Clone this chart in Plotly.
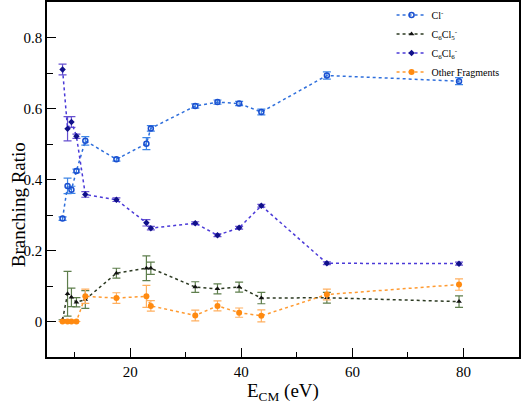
import plotly.graph_objects as go

# Energies (eV)
x_e = [7.8, 8.7, 9.4, 10.3, 11.9, 17.5, 22.9, 23.7, 31.7, 35.7, 39.6, 43.6, 55.4, 79.2]

cl = [0.290, 0.382, 0.371, 0.424, 0.509, 0.457, 0.501, 0.544, 0.607, 0.618, 0.614, 0.590, 0.693, 0.677]
cl_err = [0.005, 0.022, 0.010, 0.005, 0.012, 0.005, 0.017, 0.008, 0.006, 0.006, 0.006, 0.008, 0.010, 0.010]

c6cl5 = [0.005, 0.078, 0.068, 0.054, 0.062, 0.136, 0.150, 0.150, 0.097, 0.092, 0.097, 0.066, 0.067, 0.056]
c6cl5_err = [0.0, 0.063, 0.026, 0.013, 0.025, 0.014, 0.035, 0.017, 0.015, 0.014, 0.014, 0.016, 0.015, 0.016]

c6cl6 = [0.710, 0.543, 0.562, 0.522, 0.358, 0.343, 0.278, 0.263, 0.277, 0.243, 0.264, 0.326, 0.164, 0.163]
c6cl6_err = [0.015, 0.034, 0.015, 0.006, 0.008, 0.005, 0.009, 0.005, 0.004, 0.004, 0.004, 0.004, 0.004, 0.004]

other = [0.0, 0.0, 0.0, 0.0, 0.071, 0.066, 0.071, 0.044, 0.017, 0.044, 0.025, 0.016, 0.076, 0.104]
other_err = [0.0, 0.0, 0.0, 0.0, 0.020, 0.015, 0.031, 0.015, 0.015, 0.014, 0.013, 0.017, 0.015, 0.016]

names = ["Cl<sup>-</sup>", "C<sub>6</sub>Cl<sub>5</sub><sup>-</sup>",
         "C<sub>6</sub>Cl<sub>6</sub><sup>-</sup>", "Other Fragments"]

fig = go.Figure()

def add(y, err, name, line_color, marker, err_color):
    fig.add_trace(go.Scatter(
        x=x_e, y=y, name=name, mode="lines+markers",
        line=dict(color=line_color, dash="dot", width=1.5),
        marker=marker,
        error_y=dict(type="data", array=err, visible=True, color=err_color,
                     thickness=1.2, width=4),
    ))

add(cl, cl_err, names[0], "#2f6fdc",
    dict(symbol="circle-open", size=5, color="#1a4fd0", line=dict(width=1.5)), "#3f86e6")
add(c6cl5, c6cl5_err, names[1], "#2c3a22",
    dict(symbol="triangle-up", size=5, color="#111111"), "#5e7e4c")
add(c6cl6, c6cl6_err, names[2], "#4b3ad8",
    dict(symbol="diamond", size=5, color="#10108a"), "#6650d0")
add(other, other_err, names[3], "#ff9a30",
    dict(symbol="circle", size=6, color="#ff8a10"), "#ffb060")

font = "Liberation Serif"

fig.update_layout(
    width=522, height=406,
    margin=dict(l=47, r=3, t=2, b=49, autoexpand=False),
    paper_bgcolor="white", plot_bgcolor="white",
    font=dict(family=font, color="black", size=15),
    showlegend=True,
    legend=dict(x=0.73, y=1.004, xanchor="left", yanchor="top",
                bgcolor="rgba(0,0,0,0)", font=dict(size=10, family=font),
                tracegroupgap=0, itemwidth=30),
    annotations=[
        dict(text="Branching Ratio", textangle=-90, xref="paper", yref="paper",
             x=-0.061, y=0.428, xanchor="center", yanchor="middle", showarrow=False,
             font=dict(size=19, family=font)),
        dict(text="E<sub>CM</sub> (eV)", xref="paper", yref="paper",
             x=0.5, y=-0.098, xanchor="center", yanchor="middle", showarrow=False,
             font=dict(size=19, family=font)),
    ],
)

fig.update_xaxes(
    range=[5, 90], dtick=20, tick0=0, automargin=False,
    showgrid=False, zeroline=False,
    showline=True, linecolor="black", linewidth=1.5, mirror=True,
    ticks="inside", ticklen=9, tickwidth=1.2, tickcolor="black",
    minor=dict(dtick=10, tick0=0, ticks="inside", ticklen=5, tickcolor="black", tickwidth=1.2),
    tickfont=dict(size=15, family=font),
)
fig.update_yaxes(
    range=[-0.1, 0.9], dtick=0.2, tick0=0, automargin=False,
    showgrid=False, zeroline=False,
    showline=True, linecolor="black", linewidth=1.5, mirror=True,
    ticks="inside", ticklen=9, tickwidth=1.2, tickcolor="black",
    minor=dict(dtick=0.1, tick0=0, ticks="inside", ticklen=6, tickcolor="black", tickwidth=1.2),
    tickfont=dict(size=15, family=font),
)

fig.write_html("out.html", config={"displayModeBar": False},
               post_script="document.body.style.margin='0';document.body.style.padding='0';")
